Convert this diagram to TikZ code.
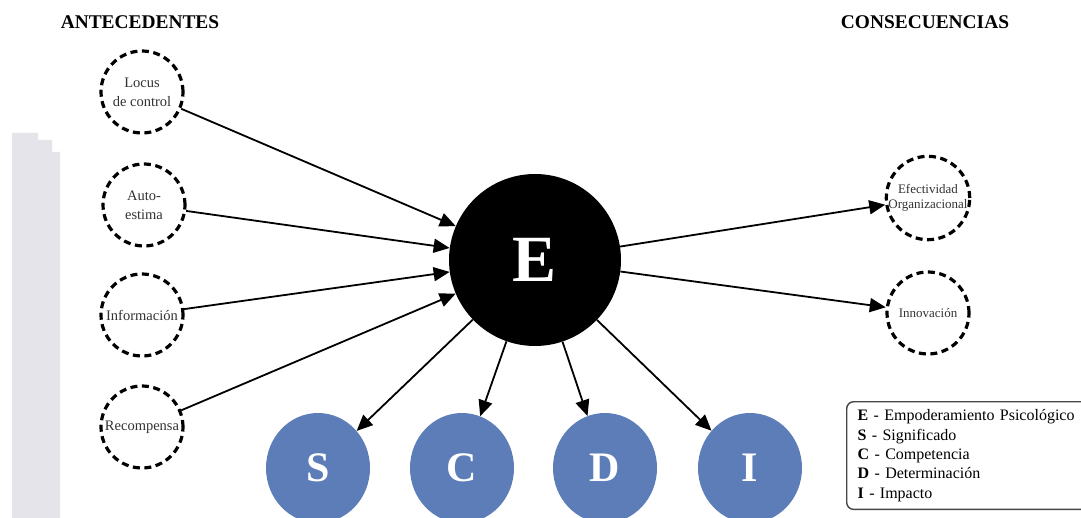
\documentclass[tikz,border=0pt]{standalone}
\usepackage{fontspec}
\setmainfont{Liberation Serif}
\usetikzlibrary{arrows.meta,shapes.geometric}
\definecolor{dimblue}{RGB}{93,125,184}
\definecolor{stripgray}{RGB}{228,228,234}
\definecolor{boxline}{RGB}{70,70,70}
\begin{document}
\begin{tikzpicture}[x=1pt,y=-1pt,
  heading/.style={font=\bfseries\fontsize{19.4}{21}\selectfont},
  factor/.style={circle, draw, line width=3.2pt, dash pattern=on 7pt off 4.5pt,
    minimum size=82pt, inner sep=0pt, align=center,
    font=\fontsize{14.5}{19}\selectfont, text=black!80},
  outcome/.style={factor, font=\fontsize{13}{15}\selectfont},
  core/.style={circle, fill=black, minimum size=172pt, inner sep=0pt,
    text=white, font=\bfseries\fontsize{66}{66}\selectfont},
  dim/.style={ellipse, fill=dimblue, minimum width=104pt, minimum height=110pt,
    inner sep=0pt, text=white, font=\bfseries\fontsize{42}{42}\selectfont},
  arr/.style={-{Triangle[length=16pt,width=14pt]}, line width=1.8pt},
  legendbox/.style={draw=boxline, line width=1.4pt, rounded corners=7pt,
    text width=222pt, inner xsep=11pt, inner ysep=8pt, align=left,
    font=\fontsize{16}{19.3}\selectfont}
]
\useasboundingbox (0,0) rectangle (1081,518);
\clip (0,0) rectangle (1081,518);
\fill[white] (0,0) rectangle (1081,518);
% grey margin strip on the left
\fill[stripgray] (12,133) -- (38,133) -- (38,140) -- (52,140) -- (52,152)
  -- (60,152) -- (60,518) -- (12,518) -- cycle;

% column headings
\node[heading] (antec) at (140,22) {ANTECEDENTES};
\node[heading] (conseq) at (925,22) {CONSECUENCIAS};

% antecedents
\node[factor] (locus) at (142,92) {Locus\\de control};
\node[factor] (auto) at (144,205) {Auto-\\estima};
\node[factor] (info) at (142,315) {Información};
\node[factor] (recomp) at (142,427) {Recompensa};

% psychological empowerment
\node[core] (E) at (535,260) {E};

% consequences
\node[outcome] (efect) at (928,198) {Efectividad\\Organizacional};
\node[outcome] (innov) at (928,313) {Innovación};

% dimensions
\node[dim] (S) at (318,468) {S};
\node[dim] (C) at (462,468) {C};
\node[dim] (D) at (605,468) {D};
\node[dim] (I) at (750,468) {I};

% connectors
\draw[arr] (locus) -- (E);
\draw[arr] (auto) -- (E);
\draw[arr] (info) -- (E);
\draw[arr] (recomp) -- (E);
\draw[arr] (E) -- (efect);
\draw[arr] (E) -- (innov);
\draw[arr] (E) -- (S);
\draw[arr] (E) -- (C);
\draw[arr] (E) -- (D);
\draw[arr] (E) -- (I);

% legend
\node[legendbox, anchor=north west] (legend) at (846,401)
  {\textbf{E} - Empoderamiento Psicológico\\
   \textbf{S} - Significado\\
   \textbf{C} - Competencia\\
   \textbf{D} - Determinación\\
   \textbf{I} - Impacto};
\end{tikzpicture}
\end{document}
